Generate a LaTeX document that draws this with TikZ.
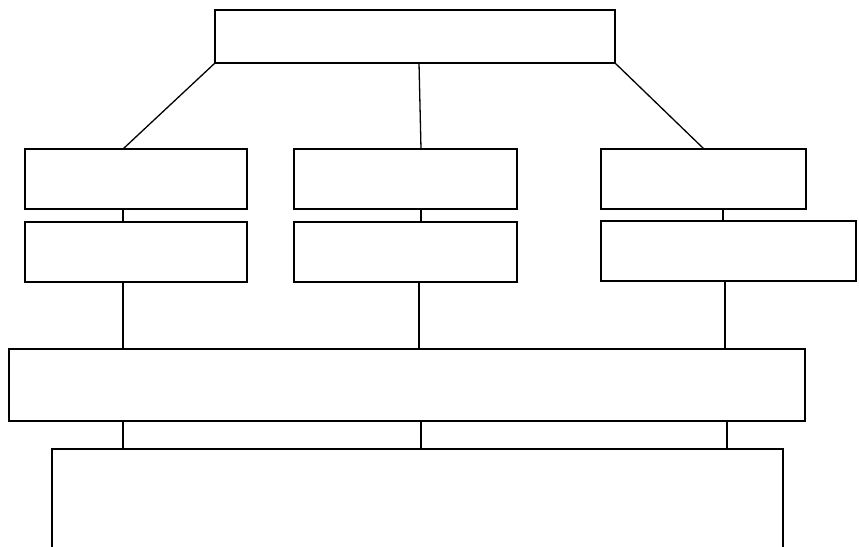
\documentclass[tikz,border=0pt]{standalone}
\begin{document}
\begin{tikzpicture}[x=1pt,y=-1pt,
  box/.style={draw, line width=1.3pt, rectangle, inner sep=0pt, outer sep=0pt},
  link/.style={line width=1.3pt}]
\useasboundingbox (0,0) rectangle (859,546);
\fill[white] (0,0) rectangle (859,546);
% boxes
\node[box, minimum width=400pt, minimum height=53pt] (top) at (415,36.5) {};
\node[box, minimum width=222pt, minimum height=60pt] (b1) at (136,179) {};
\node[box, minimum width=223pt, minimum height=60pt] (b2) at (405.5,179) {};
\node[box, minimum width=205pt, minimum height=60pt] (b3) at (703.5,179) {};
\node[box, minimum width=222pt, minimum height=60pt] (c1) at (136,252) {};
\node[box, minimum width=223pt, minimum height=60pt] (c2) at (405.5,252) {};
\node[box, minimum width=255pt, minimum height=60pt] (c3) at (728.5,251) {};
\node[box, minimum width=796pt, minimum height=72pt] (d) at (407,385) {};
\node[box, minimum width=731pt, minimum height=121pt] (e) at (417.5,509.5) {};
% x positions of connectors
\coordinate (k1) at (123,0);
\coordinate (m0) at (419,0);
\coordinate (m1) at (421,0);
\coordinate (r0) at (704,0);
\coordinate (r1) at (723,0);
\coordinate (r2) at (725,0);
\coordinate (r3) at (727,0);
% connectors
\draw[link] (top.south west) -- (b1.north -| k1);
\draw[link] (top.south -| m0) -- (b2.north -| m1);
\draw[link] (top.south east) -- (b3.north -| r0);
\draw[link] (b1.south -| k1) -- (c1.north -| k1);
\draw[link] (b2.south -| m1) -- (c2.north -| m1);
\draw[link] (b3.south -| r1) -- (c3.north -| r1);
\draw[link] (c1.south -| k1) -- (d.north -| k1);
\draw[link] (c2.south -| m0) -- (d.north -| m0);
\draw[link] (c3.south -| r2) -- (d.north -| r2);
\draw[link] (d.south -| k1) -- (e.north -| k1);
\draw[link] (d.south -| m1) -- (e.north -| m1);
\draw[link] (d.south -| r3) -- (e.north -| r3);
\end{tikzpicture}
\end{document}
